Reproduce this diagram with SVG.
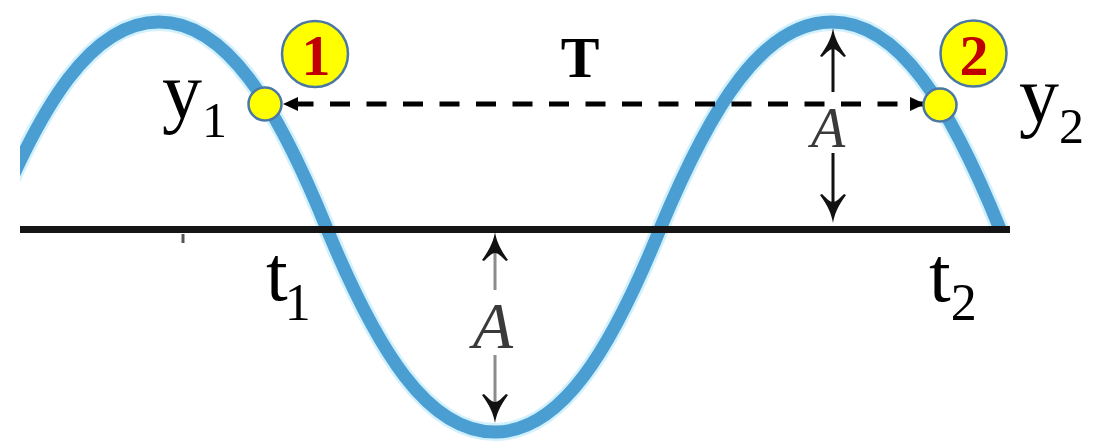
<svg xmlns="http://www.w3.org/2000/svg" xmlns:xlink="http://www.w3.org/1999/xlink" width="1093" height="441" viewBox="0 0 1093 441">
<style>
.wave{fill:none;stroke:#4b9ed2;stroke-width:13;stroke-linecap:butt}
.halo{fill:none;stroke:#d2f1fc;stroke-width:18;stroke-linecap:butt}
.pt{fill:#ffff00;stroke:#4a77a3;stroke-width:2.5}
.lbl{fill:#ffff00;stroke:#4a77a3;stroke-width:2.5}
.num{font-family:"Liberation Serif","Times New Roman",serif;font-weight:bold;font-size:58px;fill:#c00000;text-anchor:middle}
.math{font-family:"Liberation Serif","Times New Roman",serif;fill:#000}
.amp{font-family:"Liberation Serif","Times New Roman",serif;font-style:italic;fill:#3a3a3a;text-anchor:middle}
.dash{fill:none;stroke:#000;stroke-width:5;stroke-dasharray:20 16.5;stroke-dashoffset:26}
.vl{stroke:#111;stroke-width:3}
.vlg{stroke:#8c8c8c;stroke-width:3}
</style>
<defs>
<clipPath id="clip"><rect x="20" y="0" width="1073" height="441"/></clipPath>
<marker id="ah" viewBox="0 0 15 14" refX="15" refY="7" markerWidth="15" markerHeight="14" markerUnits="userSpaceOnUse" orient="auto-start-reverse">
<path d="M0,0 L15,7 L0,14 z" fill="#000"/>
</marker>
<path id="vhead" d="M0,0 C1.5,9 5,17 13,28 L11,29 C6,24 3,21 0,21 C-3,21 -6,24 -11,29 L-13,28 C-5,17 -1.5,9 0,0 Z"/>
</defs>
<rect width="1093" height="441" fill="#fff"/>

<g id="wave" clip-path="url(#clip)">
<path class="halo" d="M -10,229 C 40.7,104.8 91.4,22 159,22 C 226.2,22 276.6,104.8 327,229 C 377.4,350.8 427.8,432 495,432 C 561,432 610.5,350.8 660,229 C 711.6,104.8 763.2,22 832,22 C 899.2,22 949.6,104.8 1000,229"/>
<path class="wave" d="M -10,229 C 40.7,104.8 91.4,22 159,22 C 226.2,22 276.6,104.8 327,229 C 377.4,350.8 427.8,432 495,432 C 561,432 610.5,350.8 660,229 C 711.6,104.8 763.2,22 832,22 C 899.2,22 949.6,104.8 1000,229"/>
</g>

<g id="axis">
<line x1="20" y1="229.5" x2="1010" y2="229.5" stroke="#151515" stroke-width="7"/>
<line x1="183" y1="234" x2="183" y2="243" stroke="#555" stroke-width="3"/>
</g>

<g id="connectors">
<path class="dash" d="M 283,104 H 925" marker-start="url(#ah)" marker-end="url(#ah)"/>
<g id="amp-right" fill="#111">
<line class="vl" x1="833" y1="40" x2="833" y2="92"/>
<line class="vl" x1="833" y1="153" x2="833" y2="212"/>
<use xlink:href="#vhead" transform="translate(833,28)"/>
<use xlink:href="#vhead" transform="translate(833,223) rotate(180)"/>
</g>
<g id="amp-low" fill="#111">
<line class="vlg" x1="495" y1="245" x2="495" y2="290"/>
<line class="vlg" x1="495" y1="355" x2="495" y2="410"/>
<use xlink:href="#vhead" transform="translate(495,232)"/>
<use xlink:href="#vhead" transform="translate(495,423) rotate(180)"/>
</g>
</g>

<g id="point1"><circle class="pt" cx="265" cy="104" r="16.5"/></g>
<g id="point2"><circle class="pt" cx="940" cy="105" r="16.5"/></g>

<g id="label1">
<circle class="lbl" cx="315" cy="54" r="33"/>
<text class="num" x="316" y="75">1</text>
</g>
<g id="label2">
<circle class="lbl" cx="973.5" cy="53.5" r="33"/>
<text class="num" x="974" y="75">2</text>
</g>

<g id="texts">
<text class="math" x="162" y="118" font-size="80">y<tspan font-size="50" dy="19">1</tspan></text>
<text class="math" x="1019" y="122" font-size="80">y<tspan font-size="50" dy="21">2</tspan></text>
<text class="math" x="266" y="300" font-size="78">t<tspan font-size="52" dx="-3" dy="20">1</tspan></text>
<text class="math" x="929" y="301" font-size="78">t<tspan font-size="52" dy="19">2</tspan></text>
<text class="math" x="580" y="77" font-size="58" font-weight="bold" text-anchor="middle">T</text>
<text class="amp" x="828" y="147" font-size="56">A</text>
<text class="amp" x="493" y="348" font-size="66">A</text>
</g>
</svg>
